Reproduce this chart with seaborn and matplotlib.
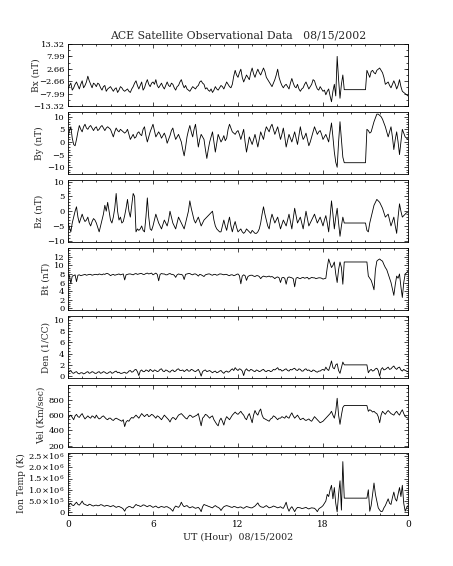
import numpy as np
import pandas as pd
import matplotlib
matplotlib.use("Agg")
import matplotlib.pyplot as plt
from matplotlib.ticker import FixedLocator, FixedFormatter, AutoMinorLocator, MultipleLocator
import seaborn as sns

# ---------------- data (0.1 h sampling; one row = one hour) ----------------
hours = [round(0.1 * i, 1) for i in range(241)]

bx = [-6, -4.5, -3.5, -6.5, -5.5, -4, -3, -4.5, -6, -4,
      -2.5, -5.5, -4.5, -3, -0.5, -2.5, -4, -5.5, -3.5, -4,
      -5, -3.5, -4, -5.5, -6.5, -5, -4.5, -7, -6, -5.5,
      -5, -6, -7, -6, -5.5, -7.5, -6.5, -5, -5.5, -6.5,
      -7, -6.5, -6, -7, -7.5, -6, -5, -3.5, -2.5, -4.5,
      -6, -4.5, -3, -6.5, -5.5, -3.5, -2, -4, -5, -3.5,
      -3, -4, -2, -4.5, -5.5, -4.5, -3.5, -5, -6, -4.5,
      -3, -4.5, -5, -3.5, -4, -5.5, -6.5, -5, -4.5, -3,
      -2, -4, -5.5, -4.5, -6, -6.5, -7, -6, -5, -5.5,
      -6, -5, -4.5, -3, -2.5, -3.5, -4, -6, -5.5, -6.5,
      -7, -6, -7.5, -6.5, -5, -6, -6.5, -5.5, -4.5, -5,
      -6, -4.5, -3, -4, -5, -5.5, -4, -0.5, 2, 0,
      -1, 1, 2.5, -1, -3, -1.5, 0, -1, -2, 1,
      3, 0.5, -1, 1, 2.5, 1, 0, 1.5, 3, 1.5,
      -1, -2, -3, -4, -5, -3.5, -2, 0, 2.5, -1,
      -3, -4.5, -5.5, -4.5, -4, -5, -6, -3.5, -1.5, -3.5,
      -5, -5.5, -4, -6, -7, -6, -5.5, -4, -3, -4.5,
      -6, -5, -4, -2, -2.5, -4.5, -6, -6.5, -5, -6,
      -7, -6.5, -8.5, -7, -6, -9, -11.5, -7, -4, -9,
      8, -2, -10, -4, 0, -6.3, -6.3, -6.3, -6.3, -6.3,
      -6.3, -6.3, -6.3, -6.3, -6.3, -6.3, -6.3, -6.3, -6.3, -6.3,
      -6.3, 2, 0.5, -1, 1.5, 2, 1, 0.5, 2, 2.5,
      3, 2, 1, -1, -4, -3.5, -3, -4.5, -5.5, -4,
      -2.5, -4, -6, -4.5, -2, -5, -7, -7.5, -8, -8.5,
      -9]

by = [2, 4.5, 6, 1.5, -1, -1.5, 1, 4, 6.5, 5,
      4, 6, 7, 5.5, 5, 6, 6.5, 5.5, 4.5, 5.5,
      6, 4.5, 5, 6, 6.5, 5.5, 4.5, 5.5, 6, 5.5,
      5, 3.5, 2, 4, 5.5, 4.5, 4, 5, 4.5, 4,
      3.5, 4, 5, 3, 1, 2, 3, 1.5, 2, 3.5,
      4, 3, 2.5, 5, 6, 2.5, 0, 2, 4, 5.5,
      7, 4.5, 2, 3, 4, 3, 1.5, 2.5, 3.5, 2,
      -0.5, 1, 2.5, 4.5, 5.5, 3, 1, 2, 3, 1.5,
      0, -3, -5.5, -2, 2, 4.5, 6.5, 4, 2, 5,
      7, 2.5, -2, 1, 3, 2, 1, -3, -6.5, -3,
      0, 2, 4, 0, -4, -0.5, 3, 1.5, 0, 1,
      2.5, 0.5, 1.5, 5, 7, 5.5, 4, 3.5, 3, 4,
      4.5, 3, 1, 3, 5, 0, -4, -1, 2, 0.5,
      -1, 1, 3, 0.5, -2, 1, 4, 2.5, 1, 4,
      6, 5, 4, 6, 7, 5, 3, 4.5, 6, 3.5,
      1, 3, 5.5, 2, -2, 0.5, 3, 1.5, 0, 2,
      4, 1.5, -1, 2.5, 6, 3, 1, 2, 3.5, 1,
      -1.5, 0, 2, 4, 6, 4.5, 3, 4, 4.5, 3,
      1, 2, 3, 1.5, 0, 4, 7.5, 2, -4, -8,
      -10, 0, 8, 1, -6, -8.2, -8.2, -8.2, -8.2, -8.2,
      -8.2, -8.2, -8.2, -8.2, -8.2, -8.2, -8.2, -8.2, -8.2, -8.2,
      -8.2, 5, 4.5, 3.5, 4, 6, 8, 9.5, 11, 11,
      10.5, 10, 9, 7.5, 6, 4, 2, 4, 6, 2,
      -3, 1, 4, 0, -5, 0, 5, 3.5, 2, 1.5,
      1]

bz = [-4, -5.5, -7, -4, -2, 0, 1.5, -2, -4, -2.5,
      -1, -2.5, -3.5, -3, -2, -4, -5, -3.5, -2.5, -3,
      -4, -5.5, -7, -5, -3, -1, 2, 0, 3, 0,
      -3, -4, -2, 1, 6, 0, -3, -2, -4, -3.5,
      -1.5, 1, 4, 0, -2, 2, 6, 5, -7, -6,
      -6.5, -6, -5, -6.5, -7, -2, 4.5, -2, -6, -6.5,
      -5, -3, -1, -2.5, -4, -5, -6, -4.5, -3, -4,
      -5, -3, 0, -2, -4, -5, -6, -4, -2, -3,
      -4, -5, -6, -4, -2, 0, 3.5, 1, -1, -3,
      -4, -3, -2, -3.5, -5, -4, -3, -2.5, -2, -1.5,
      -1, -0.5, 0, -3, -5, -6, -6.5, -7, -7, -5,
      -3, -5, -6.5, -4, -2, -5, -7, -5, -3.5, -5.5,
      -7, -6.5, -6, -7, -7.5, -7, -6, -6.5, -7, -7.5,
      -6.5, -7, -7.5, -7.5, -7, -6, -4, -1, 1.5, -1,
      -3, -5, -6, -3, -1, -2.5, -4, -3, -2, -4,
      -6, -4.5, -3, -4, -5, -3, -1, -3.5, -6, -2.5,
      1, -1.5, -4, -3, -2, -4, -6, -3, 0, -2.5,
      -5, -4, -3, -2, -1, -2.5, -4, -3, -2, -3.5,
      -5, -3, -1.5, -4, -7, -2, 3.5, -1, -6, -2,
      1, -4, -8.5, -5, -2, -4, -4, -4, -4, -4,
      -4, -4, -4, -4, -4, -4, -4, -4, -4, -4,
      -4, -6.5, -7, -4, -2, 0, 2, 3, 4, 3.5,
      3, 2, 1, -0.5, -2, -1.5, -1, -3, -5, -3.5,
      -2, -5, -7.5, -2, 2.5, 0, -2, -1.5, -1, -0.5,
      -0.5]

bt = [7.8, 7.6, 5.8, 7.5, 7.6, 7.8, 6.2, 7.7, 7.8, 7.6,
      7.7, 7.8, 7.9, 7.7, 7.8, 7.9, 7.9, 7.7, 7.8, 7.9,
      7.9, 7.8, 8.0, 7.9, 7.8, 8.0, 7.9, 8.1, 8.1, 7.9,
      7.6, 7.8, 7.9, 7.7, 7.8, 7.9, 8.0, 7.8, 7.9, 8.0,
      6.6, 7.8, 7.9, 8.0, 8.0, 7.9, 7.8, 8.0, 8.1, 7.9,
      8.0, 8.1, 8.1, 7.9, 7.9, 8.1, 8.2, 8.0, 8.1, 8.2,
      7.8, 8.0, 8.2, 7.9, 6.4, 7.9, 8.1, 8.0, 8.0, 7.8,
      7.8, 8.0, 8.1, 7.9, 7.9, 7.7, 7.2, 7.8, 8.0, 7.9,
      7.9, 7.7, 6.7, 7.9, 8.0, 8.1, 8.1, 7.9, 7.8, 8.0,
      8.0, 7.8, 7.5, 7.9, 7.8, 7.6, 7.4, 7.8, 7.9, 8.0,
      8.0, 7.8, 7.7, 7.9, 7.9, 7.7, 7.8, 8.0, 8.0, 7.9,
      7.8, 7.9, 7.9, 7.7, 7.6, 7.8, 7.8, 7.6, 7.7, 7.9,
      8.0, 7.6, 5.7, 7.5, 7.8, 7.6, 6.5, 7.4, 7.6, 7.7,
      7.7, 7.5, 7.4, 7.6, 7.6, 7.4, 6.9, 7.3, 7.5, 7.4,
      7.3, 7.4, 7.5, 7.3, 7.4, 7.2, 6.9, 7.2, 7.3, 7.1,
      6.0, 7.1, 7.2, 7.0, 5.6, 7.1, 7.3, 7.2, 7.1, 6.9,
      5.0, 7.0, 7.2, 7.0, 6.9, 7.1, 7.2, 7.0, 7.1, 7.2,
      6.8, 7.0, 7.2, 7.1, 7.1, 6.9, 7.0, 7.1, 7.1, 7.0,
      6.8, 6.9, 7.0, 9.5, 11.5, 10.5, 9.5, 10.0, 10.8, 8.0,
      6.0, 9.0, 10.8, 9.5, 5.6, 10.8, 10.8, 10.8, 10.8, 10.8,
      10.8, 10.8, 10.8, 10.8, 10.8, 10.8, 10.8, 10.8, 10.8, 10.8,
      10.8, 10.8, 7.5, 7.0, 6.5, 5.5, 4.3, 9.0, 11.0, 11.3,
      11.5, 11.2, 11.0, 10.2, 9.5, 9.0, 8.0, 7.0, 6.0, 4.5,
      3.0, 5.5, 7.5, 7.0, 8.0, 5.0, 2.5, 6.0, 8.0, 8.3,
      8.6]

den = [0.6, 0.9, 1.0, 0.6, 0.5, 0.7, 0.8, 0.5, 0.4, 0.6,
       0.6, 0.4, 0.5, 0.7, 0.8, 0.5, 0.6, 0.8, 0.7, 0.5,
       0.5, 0.7, 0.8, 0.5, 0.6, 0.8, 0.7, 0.5, 0.5, 0.7,
       0.8, 0.5, 0.6, 0.8, 0.9, 0.6, 0.7, 0.5, 0.5, 0.6,
       0.7, 0.5, 0.6, 0.9, 1.0, 0.7, 0.8, 1.1, 1.2, 0.8,
       0.1, 0.9, 1.1, 0.8, 0.8, 1.1, 1.0, 0.8, 1.2, 1.0,
       0.8, 1.1, 1.0, 0.8, 0.9, 1.2, 1.3, 0.9, 0.8, 1.1,
       1.0, 0.8, 0.7, 1.0, 1.1, 0.8, 0.9, 1.2, 1.3, 1.0,
       1.0, 1.1, 0.8, 1.0, 1.2, 0.9, 0.9, 1.2, 1.1, 0.9,
       0.8, 1.0, 1.2, 0.7, 0.0, 0.8, 1.0, 1.1, 0.8, 0.9,
       1.0, 0.8, 0.6, 0.8, 0.9, 0.6, 0.7, 0.9, 1.0, 0.7,
       0.5, 0.8, 0.9, 0.7, 0.8, 1.1, 1.3, 1.0, 1.5, 1.2,
       1.0, 1.3, 1.2, 0.9, 0.1, 1.0, 1.3, 1.0, 0.9, 1.2,
       1.1, 0.9, 0.8, 1.1, 1.0, 0.8, 0.9, 1.1, 1.2, 0.9,
       0.8, 1.0, 1.0, 0.8, 0.9, 1.2, 1.1, 1.3, 1.5, 1.1,
       1.2, 0.9, 1.0, 1.2, 1.3, 1.0, 0.9, 1.2, 1.1, 1.3,
       1.4, 1.1, 1.0, 1.3, 1.2, 0.9, 0.9, 1.2, 1.3, 1.0,
       1.1, 0.9, 0.8, 1.1, 1.0, 0.8, 0.7, 0.9, 0.9, 1.1,
       1.2, 1.0, 1.6, 1.2, 1.0, 1.8, 2.7, 1.5, 1.3, 2.0,
       2.2, 1.0, 0.5, 1.5, 2.5, 2.0, 2.0, 2.0, 2.0, 2.0,
       2.0, 2.0, 2.0, 2.0, 2.0, 2.0, 2.0, 2.0, 2.0, 2.0,
       2.0, 2.0, 0.6, 1.0, 1.2, 0.9, 1.0, 1.3, 1.4, 1.0,
       0.0, 1.2, 1.5, 1.1, 1.2, 1.4, 1.6, 1.2, 1.3, 1.6,
       1.8, 1.4, 1.2, 1.5, 1.6, 1.1, 0.9, 1.2, 1.0, 0.9,
       0.8]

vel = [560, 580, 600, 570, 540, 590, 610, 580, 570, 600,
       620, 580, 550, 570, 590, 570, 560, 590, 580, 560,
       600, 570, 550, 560, 580, 590, 570, 550, 540, 560,
       560, 540, 530, 550, 560, 550, 540, 530, 520, 540,
       450, 510, 530, 520, 550, 570, 560, 580, 600, 580,
       560, 590, 620, 600, 580, 600, 610, 580, 590, 610,
       600, 580, 560, 590, 580, 560, 540, 570, 600, 580,
       560, 540, 510, 550, 570, 560, 540, 570, 600, 610,
       620, 600, 580, 560, 550, 580, 600, 590, 570, 580,
       590, 600, 620, 540, 460, 560, 580, 610, 600, 580,
       560, 580, 590, 540, 510, 480, 460, 530, 560, 520,
       470, 540, 580, 560, 540, 570, 600, 620, 640, 620,
       610, 630, 650, 620, 600, 560, 540, 590, 620, 560,
       500, 600, 660, 620, 600, 650, 680, 600, 560, 550,
       540, 530, 520, 550, 560, 590, 580, 560, 540, 560,
       560, 580, 570, 560, 590, 570, 560, 600, 630, 590,
       560, 580, 600, 570, 540, 550, 560, 540, 530, 540,
       550, 530, 520, 550, 580, 560, 540, 520, 500, 510,
       520, 540, 560, 580, 600, 620, 650, 600, 560, 650,
       820, 600, 480, 600, 700, 725, 725, 725, 725, 725,
       725, 725, 725, 725, 725, 725, 725, 725, 725, 725,
       725, 725, 650, 670, 660, 640, 650, 630, 620, 580,
       500, 600, 650, 630, 610, 640, 660, 640, 620, 610,
       600, 630, 650, 620, 600, 640, 670, 620, 580, 570,
       560]

# ion temperature in units of 1e5 K
ion_temp_1e5 = [2.5, 3.5, 4.0, 3.2, 3.0, 3.8, 4.5, 3.5, 3.2, 4.0,
                5.0, 3.8, 3.5, 3.2, 3.0, 3.6, 3.4, 3.0, 2.8, 3.1,
                3.2, 2.9, 3.0, 3.4, 3.3, 2.9, 2.7, 3.1, 3.0, 2.8,
                2.5, 2.8, 3.0, 2.6, 2.2, 2.5, 2.6, 2.3, 2.0, 1.5,
                0.5, 1.8, 2.2, 2.6, 2.5, 2.1, 2.0, 2.8, 3.5, 3.1,
                3.0, 2.6, 2.8, 3.3, 3.2, 2.8, 2.5, 2.9, 3.0, 2.6,
                2.2, 2.5, 2.8, 2.3, 2.0, 2.4, 2.6, 2.4, 2.2, 2.5,
                2.5, 2.1, 1.8, 1.2, 0.5, 2.0, 2.8, 2.5, 2.2, 3.0,
                4.5, 3.2, 2.5, 2.8, 3.0, 2.4, 2.0, 2.3, 2.5, 2.1,
                1.8, 2.0, 2.2, 1.5, 0.3, 2.5, 3.5, 3.2, 3.0, 2.7,
                2.5, 2.2, 2.0, 2.6, 3.0, 2.5, 2.2, 1.8, 0.8, 1.8,
                2.5, 2.8, 3.0, 2.8, 2.6, 2.3, 2.2, 2.6, 2.5, 2.2,
                2.0, 2.3, 2.4, 2.0, 1.8, 2.2, 2.6, 2.4, 2.2, 2.0,
                2.0, 2.4, 2.8, 3.5, 4.2, 3.0, 2.5, 2.3, 2.2, 2.6,
                3.0, 2.5, 2.0, 2.2, 2.4, 2.8, 2.6, 2.3, 2.0, 2.2,
                2.5, 2.0, 1.8, 3.0, 4.5, 2.0, 0.5, 1.8, 2.5, 1.5,
                0.3, 1.5, 2.2, 2.1, 2.0, 1.7, 1.8, 2.0, 2.2, 1.8,
                1.5, 1.8, 2.0, 1.9, 1.8, 1.2, 0.3, 1.5, 2.0, 2.4,
                3.0, 4.0, 5.0, 8.0, 7.0, 10.0, 12.0, 6.0, 11.0, 4.0,
                0.2, 8.0, 14.0, 1.0, 22.5, 6.3, 6.3, 6.3, 6.3, 6.3,
                6.3, 6.3, 6.3, 6.3, 6.3, 6.3, 6.3, 6.3, 6.3, 6.3,
                6.3, 6.3, 10.0, 0.5, 3.0, 8.0, 13.0, 8.0, 5.0, 2.0,
                1.0, 0.3, 0.5, 2.0, 3.0, 4.5, 6.0, 4.0, 3.5, 6.5,
                9.0, 6.0, 5.0, 8.0, 11.0, 7.0, 12.0, 4.0, 0.5, 2.0,
                3.0]

for _s in (bx, by, bz, bt, den, vel, ion_temp_1e5):
    assert len(_s) == len(hours), len(_s)

x_ticks = [0, 6, 12, 18, 24]
x_tick_labels = ["0", "6", "12", "18", "0"]

title = "ACE Satellite Observational Data   08/15/2002"
x_label = "UT (Hour)  08/15/2002"

# ---------------- styling ----------------
sns.set_style("ticks")
plt.rcParams["font.family"] = ["DejaVu Serif"]
plt.rcParams["mathtext.fontset"] = "dejavuserif"

W, H = 453, 566
fig = plt.figure(figsize=(W / 100, H / 100), dpi=100)

left_px, right_px = 68, 408
panel_h = 62
step = 68.1
top0 = 44

panels = [
    dict(y=bx, label="Bx (nT)", ylim=(-13.32, 13.32),
         ticks=[-13.32, -7.99, -2.66, 2.66, 7.99, 13.32],
         tlabels=["\u221213.32", "\u22127.99", "\u22122.66", "2.66", "7.99", "13.32"],
         minor=2, labx=36.5),
    dict(y=by, label="By (nT)", ylim=(-12.7, 11.8),
         ticks=[-10, -5, 0, 5, 10],
         tlabels=["\u221210", "\u22125", "0", "5", "10"],
         minor=5, labx=39.5),
    dict(y=bz, label="Bz (nT)", ylim=(-10.5, 10.5),
         ticks=[-10, -5, 0, 5, 10],
         tlabels=["\u221210", "\u22125", "0", "5", "10"],
         minor=5, labx=39.5),
    dict(y=bt, label="Bt (nT)", ylim=(-0.5, 14),
         ticks=[0, 2, 4, 6, 8, 10, 12],
         tlabels=["0", "2", "4", "6", "8", "10", "12"],
         minor=4, labx=46.5),
    dict(y=den, label="Den (1/CC)", ylim=(-0.4, 10.6),
         ticks=[0, 2, 4, 6, 8, 10],
         tlabels=["0", "2", "4", "6", "8", "10"],
         minor=4, labx=46.5),
    dict(y=vel, label="Vel (Km/sec)", ylim=(190, 1000),
         ticks=[200, 400, 600, 800],
         tlabels=["200", "400", "600", "800"],
         minor=4, labx=41.5),
    dict(y=ion_temp_1e5, label="Ion Temp (K)", ylim=(-1.0, 26.5),
         ticks=[0, 5, 10, 15, 20, 25],
         tlabels=["0", r"5.0$\times$10$^{5}$", r"1.0$\times$10$^{6}$",
                  r"1.5$\times$10$^{6}$", r"2.0$\times$10$^{6}$", r"2.5$\times$10$^{6}$"],
         minor=5, labx=21.5),
]

axes = []
for i, p in enumerate(panels):
    top = top0 + step * i
    ax = fig.add_axes([left_px / W, 1 - (top + panel_h) / H,
                       (right_px - left_px) / W, panel_h / H])
    df = pd.DataFrame({"hour": hours, "val": p["y"]})
    sns.lineplot(data=df, x="hour", y="val", ax=ax, color="black",
                 linewidth=0.6, estimator=None, sort=False)
    ax.set_xlim(0, 24)
    ax.set_ylim(*p["ylim"])
    ax.yaxis.set_major_locator(FixedLocator(p["ticks"]))
    ax.yaxis.set_major_formatter(FixedFormatter(p["tlabels"]))
    ax.yaxis.set_minor_locator(AutoMinorLocator(p["minor"]))
    ax.xaxis.set_major_locator(FixedLocator(x_ticks))
    ax.xaxis.set_minor_locator(MultipleLocator(1))
    ax.tick_params(axis="both", which="both", direction="in",
                   top=True, right=True, width=0.5, colors="black")
    ax.tick_params(axis="both", which="major", length=3.2)
    ax.tick_params(axis="both", which="minor", length=1.6)
    ax.tick_params(axis="y", which="major", labelsize=6, pad=2.5)
    for s in ax.spines.values():
        s.set_linewidth(0.6)
        s.set_color("black")
    ax.set_ylabel(p["label"], fontsize=6.5)
    ax.yaxis.set_label_coords((p["labx"] - left_px) / (right_px - left_px), 0.5)
    ax.yaxis.label.set_verticalalignment("center")
    if i < len(panels) - 1:
        ax.set_xticklabels([])
        ax.set_xlabel("")
    else:
        ax.set_xticklabels(x_tick_labels)
        ax.tick_params(axis="x", which="major", labelsize=6.5, pad=4)
        ax.set_xlabel(x_label, fontsize=6.8)
        ax.xaxis.set_label_coords(0.5, -(537 - (top + panel_h)) / panel_h)
        ax.xaxis.label.set_verticalalignment("center")
    axes.append(ax)

fig.text((left_px + right_px) / 2 / W, 1 - 36 / H, title,
         ha="center", va="center", fontsize=7.8)

fig.savefig("out.png", dpi=100)
